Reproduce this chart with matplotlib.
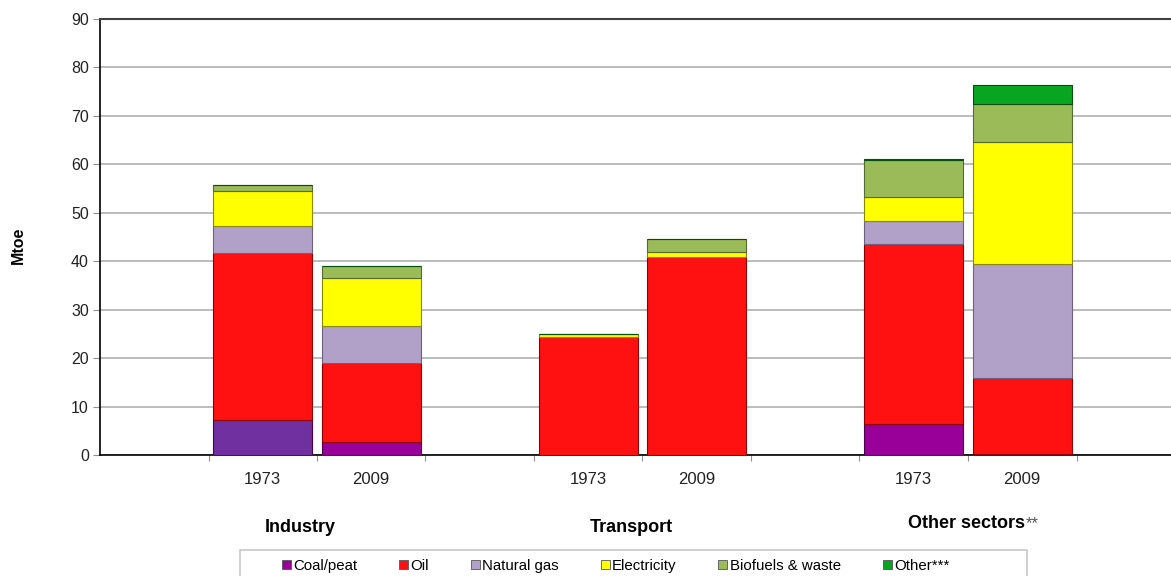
import matplotlib.pyplot as plt
from matplotlib.patches import Rectangle, Patch

plt.rcParams['font.family'] = ['Liberation Sans', 'DejaVu Sans']

sectors = ["Industry", "Transport", "Other sectors"]
years = ["1973", "2009"]
fuels = ["Coal/peat", "Oil", "Natural gas", "Electricity", "Biofuels & waste", "Other***"]

# values per bar: Industry 1973, Industry 2009, Transport 1973, Transport 2009, Other 1973, Other 2009
coal = [7.2, 2.6, 0.0, 0.0, 6.5, 0.3]
oil = [34.4, 16.3, 24.4, 40.9, 37.1, 15.6]
gas = [5.7, 7.7, 0.0, 0.0, 4.7, 23.5]
elec = [7.2, 10.0, 0.6, 1.1, 4.9, 25.3]
bio = [1.2, 2.4, 0.0, 2.5, 7.7, 7.8]
other = [0.0, 0.0, 0.0, 0.0, 0.3, 3.9]
series = [coal, oil, gas, elec, bio, other]

colors = ["#990099", "#FF1111", "#B1A0C7", "#FFFF00", "#9BBB59", "#08A520"]
coal_colors = ["#7030A0", "#990099", "#990099", "#990099", "#990099", "#990099"]
edges = ["#4a004a", "#8a0000", "#6e6080", "#8a8a00", "#556b2f", "#045010"]

fig = plt.figure(figsize=(11.71, 5.76), dpi=100)
ax = fig.add_axes([100 / 1171, 121 / 576, 1085 / 1171, 436 / 576])

xs = [3 * g + 1.5 + j for g in range(len(sectors)) for j in range(len(years))]
bottom = [0.0] * len(xs)
for k, vals in enumerate(series):
    fc = coal_colors if k == 0 else colors[k]
    ax.bar(xs, vals, width=0.91, bottom=bottom, color=fc,
           edgecolor=edges[k], linewidth=0.8, zorder=3)
    bottom = [b + v for b, v in zip(bottom, vals)]

ax.set_xlim(0, 10)
ax.set_ylim(0, 90)
ax.set_yticks(range(0, 91, 10))
ax.yaxis.grid(True, color="#b0b0b0", linewidth=1.2, zorder=0)
ax.axhline(90, color="#404040", linewidth=1.5, zorder=4, clip_on=False)
for s in ["top", "right"]:
    ax.spines[s].set_visible(False)
ax.spines["left"].set_color("black")
ax.spines["bottom"].set_color("black")
ax.spines["left"].set_linewidth(1.2)
ax.spines["bottom"].set_linewidth(1.2)

ax.set_xticks(range(1, 10))
ax.set_xticklabels([])
ax.tick_params(axis="x", length=4, color="#909090", direction="out")
ax.tick_params(axis="y", length=5, color="#909090", labelsize=11.5, labelcolor="#222222", pad=3)

for x, lab in zip(xs, years * len(sectors)):
    ax.text(x, -5.0, lab, ha="center", va="center", fontsize=12, color="#222222")

ax.text(1.85, -14.9, "Industry", ha="center", va="center", fontsize=13, fontweight="bold")
ax.text(4.9, -14.9, "Transport", ha="center", va="center", fontsize=13, fontweight="bold")
t = ax.text(7.45, -14.1, "Other sectors", ha="left", va="center", fontsize=13, fontweight="bold")
ax.annotate("**", xy=(1, 0.5), xycoords=t, xytext=(0, 0), textcoords="offset points",
            ha="left", va="center", fontsize=12, color="#555555")

ax.set_ylabel("Mtoe", fontsize=11.5, fontweight="bold")
ax.yaxis.set_label_coords(-0.068, 0.48)

# legend frame
fig.patches.append(Rectangle((240 / 1171, -10 / 576), (1027 - 240) / 1171, (36) / 576,
                             transform=fig.transFigure, facecolor="white",
                             edgecolor="#c8c8c8", linewidth=1.2))
handles = [Patch(facecolor=c, edgecolor="#555555", linewidth=0.6) for c in colors]
fig.legend(handles, fuels, loc="center left", bbox_to_anchor=(274 / 1171, 10 / 576),
           ncol=6, frameon=False, fontsize=10.8, handlelength=0.6, handleheight=0.6,
           handletextpad=0.15, columnspacing=2.8, borderpad=0)

fig.savefig("out.png", dpi=100)
